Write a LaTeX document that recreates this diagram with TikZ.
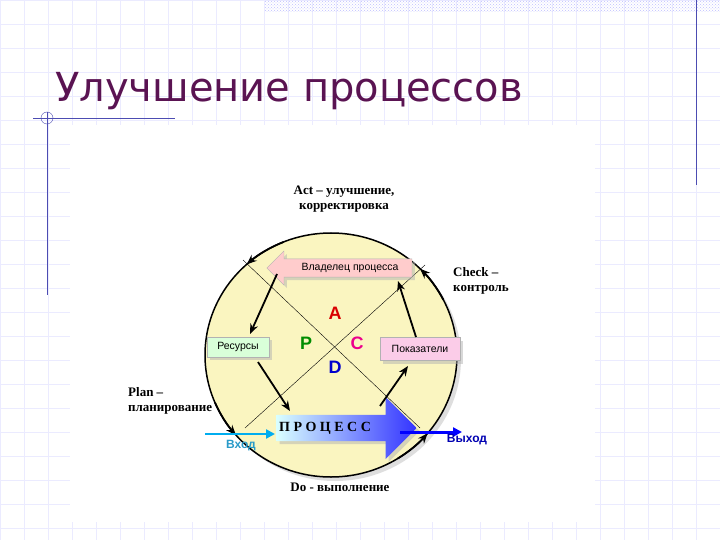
\documentclass[tikz,border=0pt]{standalone}
\usepackage{fontspec}
\setmainfont{Liberation Serif}
\newfontfamily\ttl{DejaVu Sans}
\newfontfamily\sfa{Liberation Sans}
\usetikzlibrary{shapes.arrows,shapes.geometric,arrows.meta,patterns,shadows}
\definecolor{ttlc}{HTML}{5A1352}
\definecolor{yel}{HTML}{FAF5C0}
\tikzset{
 lbl/.style={font=\bfseries\fontsize{13}{15}\selectfont, align=left, inner sep=0},
 bx/.style={draw=gray!60, font=\sfa\fontsize{10.5}{11}\selectfont, minimum height=20, inner sep=2, drop shadow={fill=gray!60, shadow xshift=3pt, shadow yshift=-3pt}},
 blk/.style={-{Stealth[length=10pt,width=8pt]}, line width=1.8pt},
 letter/.style={font=\sfa\bfseries\fontsize{18}{18}\selectfont},
}
\begin{document}
\begin{tikzpicture}[x=1pt,y=-1pt]
\useasboundingbox (0,0) rectangle (720,540);
\fill[white] (0,0) rectangle (720,540);
\foreach \x in {0,24,...,720} \draw[blue!8] (\x,0) -- (\x,540);
\foreach \y in {0,24,...,540} \draw[blue!8] (0,\y) -- (720,\y);
\fill[white] (70,125) rectangle (595,522);
\fill[pattern=crosshatch dots, pattern color=blue!25] (265,0) rectangle (720,12);
\draw[blue!40!gray] (696,0) -- (696,185);
\draw[blue!40!gray] (33,118) -- (175,118);
\draw[blue!40!gray] (47,112) -- (47,295);
\draw[blue!40!gray] (47,118) circle (6);
\node[anchor=base west, text=ttlc, font=\ttl\fontsize{40}{40}\selectfont, inner sep=0] (title) at (55,102) {Улучшение процессов};
% ellipse
\node[draw=black, line width=1.5, fill=yel, ellipse, minimum width=252, minimum height=244, inner sep=0,
  drop shadow={fill=gray!50, shadow xshift=4pt, shadow yshift=-4pt}] (ell) at (331,355) {};
\coordinate (ul) at (243,260); \coordinate (lr) at (420,428);
\coordinate (ll) at (245,428); \coordinate (ur) at (425,265);
\draw (ul) -- (lr); \draw (ll) -- (ur);
% cycle arrowheads along the ellipse
\draw[blk] (ell.center) ++(248:126 and 122) arc[start angle=248, end angle=228, x radius=126, y radius=122];
\draw[blk] (ell.center) ++(333:126 and 122) arc[start angle=333, end angle=315, x radius=126, y radius=122];
\draw[blk] (ell.center) ++(157:126 and 122) arc[start angle=157, end angle=139, x radius=126, y radius=122];
\draw[blk] (ell.center) ++(58:126 and 122) arc[start angle=58, end angle=40, x radius=126, y radius=122];
% owner arrow
\node[single arrow, shape border rotate=180, fill=red!20, draw=gray!60, minimum height=145, minimum width=34, single arrow head extend=6, inner sep=2,
  font=\sfa\fontsize{10.5}{11}\selectfont, drop shadow={fill=gray!60, shadow xshift=3pt, shadow yshift=-3pt}] (own) at (344,268) {\hspace{12pt}Владелец процесса};
\node[bx, fill=green!15, minimum width=62] (res) at (238,347) {Ресурсы};
\node[bx, fill=magenta!20, minimum width=80, minimum height=23] (pok) at (420,349) {Показатели};
% process
\draw[-{Triangle[length=9pt,width=9pt]}, cyan, line width=2.5pt] (205,434) -- (275,434);
\node[single arrow, shading=axis, left color=cyan!15, right color=blue!80, shading angle=90, minimum height=140, minimum width=62, single arrow head extend=14, single arrow tip angle=90, inner sep=4,
  font=\bfseries\fontsize{14}{14}\selectfont, drop shadow={fill=gray!60, shadow xshift=3pt, shadow yshift=-3pt}] (proc) at (340,428) {\hspace{-30pt}П Р О Ц Е С С};
\draw[-{Triangle[length=9pt,width=9pt]}, blue, line width=3pt] (400,432) -- (462,432);
\node[text=cyan!80!black, font=\sfa\bfseries\fontsize{12}{12}\selectfont] (in) at (241,446) {Вход};
\node[text=blue!70!black, font=\sfa\bfseries\fontsize{12}{12}\selectfont] (out) at (467,440) {Выход};
% black arrows
\draw[blk] (277,274) -- (250,334);
\draw[blk] (258,362) -- (290,411);
\draw[blk] (380,406) -- (408,366);
\draw[blk] (416,337) -- (398,281);
% letters
\node[letter, text=red!85!black] (A) at (335,313) {A};
\node[letter, text=green!55!black] (P) at (306,343) {P};
\node[letter, text=magenta] (C) at (357,343) {C};
\node[letter, text=blue!80!black] (D) at (335,367) {D};
% labels
\node[lbl, align=center] (act) at (344,199) {Act – улучшение,\\корректировка};
\node[lbl, anchor=west] (chk) at (453,281) {Check –\\контроль};
\node[lbl, anchor=west] (pln) at (128,401) {Plan –\\планирование};
\node[lbl] (do) at (340,487) {Do - выполнение};
\end{tikzpicture}
\end{document}
